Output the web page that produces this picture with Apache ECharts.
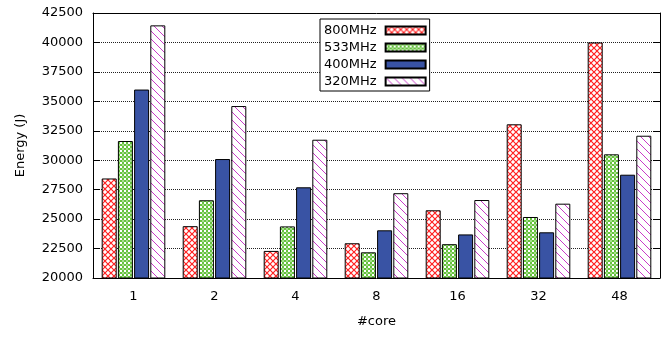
<!DOCTYPE html>
<html>
<head>
<meta charset="utf-8">
<script src="https://cdn.jsdelivr.net/npm/echarts@6/dist/echarts.min.js"></script>
<style>
  html, body { margin: 0; padding: 0; background: #fff; }
  #chart { width: 670px; height: 338px; }
</style>
</head>
<body>
<div id="chart"></div>
<script>
// Core counts on the x axis
const cores = ['1', '2', '4', '8', '16', '32', '48'];
// Frequency settings (series names)
const freqs = ['800MHz', '533MHz', '400MHz', '320MHz'];
// Energy in joules per core count, one array per frequency
const e800 = [28450, 24400, 22300, 22950, 25750, 33050, 40000];
const e533 = [31630, 26600, 24380, 22180, 22870, 25180, 30500];
const e400 = [36000, 30100, 27700, 24050, 23700, 23880, 28770];
const e320 = [41450, 34600, 31740, 27200, 26620, 26310, 32080];
const energySeries = [e800, e533, e400, e320];

// Small tiled canvases used as bar fills
function tile(size, draw) {
  const c = document.createElement('canvas');
  c.width = size; c.height = size;
  const g = c.getContext('2d');
  g.fillStyle = '#fff';
  g.fillRect(0, 0, size, size);
  draw(g, size);
  return { image: c, repeat: 'repeat' };
}
const crossHatch = tile(6, (g, s) => {
  g.strokeStyle = '#ff2020';
  g.lineWidth = 1.2;
  g.beginPath();
  g.moveTo(0, 0); g.lineTo(s, s);
  g.moveTo(s, 0); g.lineTo(0, s);
  g.stroke();
});
const checker = tile(4, (g) => {
  g.fillStyle = '#66c23e';
  g.fillRect(0, 0, 2, 2);
  g.fillRect(2, 2, 2, 2);
  g.fillStyle = '#a8de90';
  g.fillRect(2, 0, 2, 2);
});
const solidBlue = '#3953a4';
const slash = tile(8, (g, s) => {
  g.strokeStyle = '#c83cc8';
  g.lineWidth = 1;
  g.beginPath();
  g.moveTo(0, 0); g.lineTo(s, s);
  g.stroke();
});
const fills = [crossHatch, checker, solidBlue, slash];

const FONT = 'DejaVu Sans';
const plain = (v) => String(v);

const chart = echarts.init(document.getElementById('chart'), null, { renderer: 'canvas' });
chart.setOption({
  animation: false,
  backgroundColor: '#fff',
  textStyle: { fontFamily: FONT },
  grid: { left: 93, right: 10, top: 13, bottom: 60, containLabel: false },
  legend: {
    orient: 'vertical',
    left: 320,
    top: 19,
    align: 'right',
    icon: 'rect',
    itemWidth: 40,
    itemHeight: 8,
    itemGap: 2,
    padding: [4, 3, 2, 4],
    borderColor: '#000',
    borderWidth: 1,
    borderRadius: 0,
    backgroundColor: '#fff',
    textStyle: { fontFamily: FONT, fontSize: 13, color: '#000', lineHeight: 15, padding: [0, 4, 0, 0] },
    data: freqs
  },
  xAxis: [
    {
      type: 'category',
      data: cores,
      position: 'bottom',
      name: '#core',
      nameLocation: 'middle',
      nameGap: 37,
      nameTextStyle: { fontFamily: FONT, fontSize: 13, color: '#000' },
      axisLine: { lineStyle: { color: '#000', width: 1 } },
      axisTick: { inside: true, alignWithLabel: true, length: 7, lineStyle: { color: '#000' } },
      axisLabel: { fontFamily: FONT, fontSize: 13, color: '#000', margin: 12 },
      splitLine: { show: false }
    },
    {
      type: 'category',
      data: cores,
      position: 'top',
      axisLine: { lineStyle: { color: '#000', width: 1 } },
      axisTick: { inside: true, alignWithLabel: true, length: 7, lineStyle: { color: '#000' } },
      axisLabel: { show: false },
      splitLine: { show: false }
    }
  ],
  yAxis: [
    {
      type: 'value',
      min: 20000,
      max: 42500,
      interval: 2500,
      position: 'left',
      name: 'Energy (J)',
      nameLocation: 'middle',
      nameGap: 66,
      nameTextStyle: { fontFamily: FONT, fontSize: 13, color: '#000' },
      axisLine: { show: true, lineStyle: { color: '#000', width: 1 } },
      axisTick: { show: true, inside: true, length: 7, lineStyle: { color: '#000' } },
      axisLabel: { fontFamily: FONT, fontSize: 13, color: '#000', margin: 10, formatter: plain },
      splitLine: { show: true, lineStyle: { color: '#222', width: 1, type: [1, 1] } }
    },
    {
      type: 'value',
      min: 20000,
      max: 42500,
      interval: 2500,
      position: 'right',
      axisLine: { show: true, lineStyle: { color: '#000', width: 1 } },
      axisTick: { show: true, inside: true, length: 7, lineStyle: { color: '#000' } },
      axisLabel: { show: false },
      splitLine: { show: false }
    }
  ],
  series: freqs.map((name, i) => ({
    name,
    type: 'bar',
    xAxisIndex: 0,
    yAxisIndex: 0,
    data: energySeries[i],
    barWidth: 15,
    barGap: '8%',
    itemStyle: {
      color: fills[i],
      borderColor: '#000',
      borderWidth: 1,
      borderRadius: 0
    }
  }))
});
</script>
</body>
</html>
